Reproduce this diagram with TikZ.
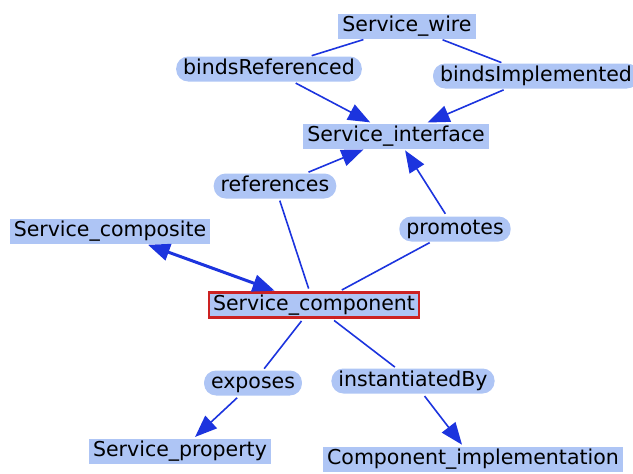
\documentclass[tikz,border=0pt]{standalone}
\usepackage{fontspec}
\setmainfont{DejaVu Sans}
\usetikzlibrary{arrows.meta}
\definecolor{nodefill}{RGB}{174,197,245}
\definecolor{edgeblue}{RGB}{28,52,222}
\definecolor{framered}{RGB}{204,34,34}

\begin{document}
\begin{tikzpicture}[x=1pt,y=-1pt,
    classnode/.style={rectangle,fill=nodefill,inner xsep=\boxpadding pt,inner ysep=0pt,
        minimum height=\nodeheight pt,text height=15pt,text depth=5pt,font=\labelfontsize},
    relnode/.style={classnode,rounded corners=12pt,inner xsep=\pillpadding pt},
    mainnode/.style={classnode,draw=framered,line width=2.2pt},
    link/.style={draw=edgeblue,line width=1.6pt,shorten <=3pt,shorten >=2pt},
    linkto/.style={link,-{Triangle[length=22pt,width=17pt]}},
    linkboth/.style={link,line width=3pt,{Triangle[length=22pt,width=17pt]}-{Triangle[length=22pt,width=17pt]}}]
    \pgfmathsetmacro{\nodeheight}{25}
    \pgfmathsetmacro{\boxpadding}{4}
    \pgfmathsetmacro{\pillpadding}{7}
    \providecommand{\labelfontsize}{\fontsize{20.5}{24}\selectfont}
    \useasboundingbox (0,0) rectangle (633,474);
    % classes
    \node[classnode] (wire) at (407,26) {Service\_wire};
    \node[classnode] (iface) at (396,136) {Service\_interface};
    \node[classnode] (composite) at (110,231) {Service\_composite};
    \node[mainnode] (component) at (314,305) {Service\_component};
    \node[classnode] (property) at (180,451) {Service\_property};
    \node[classnode] (impl) at (473,459) {Component\_implementation};
    % relations
    \node[relnode] (bref) at (269,69) {bindsReferenced};
    \node[relnode] (bimpl) at (536,76) {bindsImplemented};
    \node[relnode] (refs) at (275,186) {references};
    \node[relnode] (promotes) at (455,229) {promotes};
    \node[relnode] (exposes) at (253,383) {exposes};
    \node[relnode] (instby) at (413,381) {instantiatedBy};
    % connectors
    \draw[link] (wire) -- (bref);
    \draw[link] (wire) -- (bimpl);
    \draw[linkto] (bref) -- (iface);
    \draw[linkto] (bimpl) -- (iface);
    \draw[link] (component) -- (refs);
    \draw[linkto] (refs) -- (iface);
    \draw[link] (component) -- (promotes);
    \draw[linkto] (promotes) -- (iface);
    \draw[linkboth] (composite) -- (component);
    \draw[link] (component) -- (exposes);
    \draw[linkto] (exposes) -- (property);
    \draw[link] (component) -- (instby);
    \draw[linkto] (instby) -- (impl);
\end{tikzpicture}
\end{document}
